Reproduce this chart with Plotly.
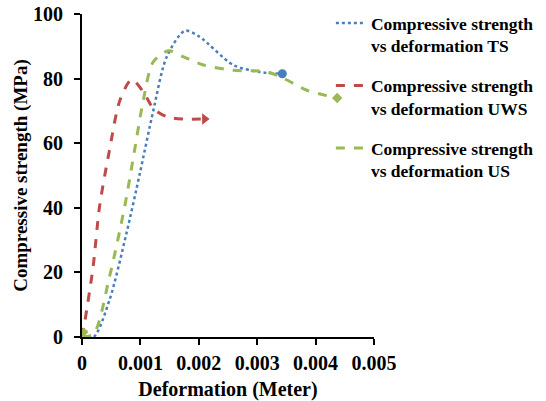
import plotly.graph_objects as go

# Data
ts_x = [0, 0.0002, 0.00047, 0.00076, 0.00099, 0.00122, 0.00145, 0.00176, 0.00201, 0.00259, 0.00305, 0.00343]
ts_y = [0, 0, 11.4, 32, 50.6, 70, 86.7, 94.8, 93, 84.2, 82, 81.5]

uws_x = [0, 0.00005, 0.00019, 0.0003, 0.00047, 0.00065, 0.00085, 0.00105, 0.00122, 0.00145, 0.00173, 0.0021]
uws_y = [0, 5, 21.7, 40.3, 57.8, 73.3, 79.7, 75.9, 70.8, 68.2, 67.5, 67.5]

us_x = [0, 0.0002, 0.00047, 0.00073, 0.0009, 0.00105, 0.00122, 0.00148, 0.00173, 0.00208, 0.00259, 0.00316, 0.00345, 0.00385, 0.00437]
us_y = [0, 1, 18.6, 40.3, 57.8, 73.3, 85.2, 88.6, 86.8, 84.2, 82.6, 82.1, 80.1, 76.4, 74]

names = ["Compressive strength<br>vs deformation TS",
         "Compressive strength<br>vs deformation UWS",
         "Compressive strength<br>vs deformation US"]
colors = ["#4A7EBB", "#BE4B48", "#98B954"]

x_ticks = [0, 0.001, 0.002, 0.003, 0.004, 0.005]
x_ticktext = ["0", "0.001", "0.002", "0.003", "0.004", "0.005"]
y_ticks = [0, 20, 40, 60, 80, 100]

FONT = "Liberation Serif, Times New Roman, serif"

fig = go.Figure()
series = [(ts_x, ts_y, "dot", None, "circle", 9),
          (uws_x, uws_y, "dash", "triangle-down", "triangle-right", 10),
          (us_x, us_y, "dash", "diamond", "diamond", 8)]
for i, (xs, ys, dash, sym0, sym1, ms) in enumerate(series):
    fig.add_trace(go.Scatter(
        x=xs, y=ys, mode="lines", name=names[i], legendgroup=str(i),
        line=dict(color=colors[i], width=3 if dash == "dash" else 2.5, dash=dash, shape="spline", smoothing=0.8),
    ))
    # end decoration
    fig.add_trace(go.Scatter(
        x=[xs[-1]], y=[ys[-1]], mode="markers", showlegend=False, legendgroup=str(i),
        marker=dict(color=colors[i], symbol=sym1, size=ms),
    ))
    # start decoration
    if sym0:
        fig.add_trace(go.Scatter(
            x=[xs[0] + 0.00003], y=[ys[0] + 1.5], mode="markers", showlegend=False, legendgroup=str(i),
            marker=dict(color=colors[i], symbol=sym0, size=7),
        ))

fig.update_layout(
    width=546, height=401,
    margin=dict(l=82, r=172, t=14, b=64, autoexpand=False),
    paper_bgcolor="white", plot_bgcolor="white",
    font=dict(family=FONT, color="black", size=19, weight="bold"),
    showlegend=True,
    legend=dict(x=0.606, xref="container", xanchor="left", y=0.9875, yref="container", yanchor="top",
                font=dict(family=FONT, size=17.5, weight="bold", color="black"),
                traceorder="grouped", tracegroupgap=14, valign="top",
                bgcolor="rgba(0,0,0,0)"),
    xaxis=dict(range=[0, 0.005], tickvals=x_ticks, ticktext=x_ticktext, automargin=False,
               showline=True, linecolor="black", linewidth=2,
               ticks="outside", ticklen=6, tickwidth=2, tickcolor="black",
               showgrid=False, zeroline=False, ticklabelstandoff=1,
               tickfont=dict(size=20, weight="bold"),
               title=dict(text="Deformation (Meter)", font=dict(size=20, weight="bold"), standoff=13)),
    yaxis=dict(range=[0, 100], tickvals=y_ticks, automargin=False,
               showline=True, linecolor="black", linewidth=2,
               ticks="outside", ticklen=6, tickwidth=2, tickcolor="black",
               showgrid=False, zeroline=False, ticklabelstandoff=7,
               tickfont=dict(size=20, weight="bold"),
               title=dict(text="Compressive strength (MPa)", font=dict(size=19, weight="bold"), standoff=0)),
)

fig.write_html("out.html")
